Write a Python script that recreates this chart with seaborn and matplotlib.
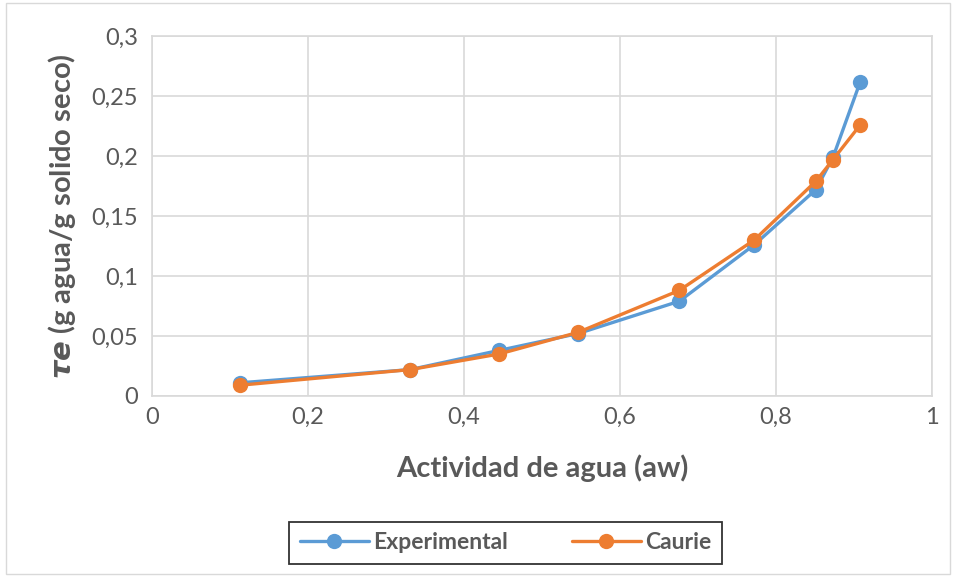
import numpy as np
import pandas as pd
import matplotlib
matplotlib.use("Agg")
import matplotlib.pyplot as plt
from matplotlib.ticker import FuncFormatter, MultipleLocator
from matplotlib.patches import Rectangle
import seaborn as sns

# data
aw = [0.113, 0.331, 0.445, 0.546, 0.676, 0.772, 0.851, 0.873, 0.908]
experimental = [0.011, 0.022, 0.038, 0.052, 0.079, 0.126, 0.172, 0.199, 0.262]
caurie = [0.009, 0.022, 0.035, 0.053, 0.088, 0.130, 0.179, 0.197, 0.226]
series_names = ["Experimental", "Caurie"]

df = pd.DataFrame({
    "aw": aw * 2,
    "value": experimental + caurie,
    "serie": [series_names[0]] * len(aw) + [series_names[1]] * len(aw),
})

sns.set_style("white")
plt.rcParams["font.family"] = ["Lato", "DejaVu Sans"]
plt.rcParams["mathtext.fontset"] = "dejavusans"

grey = "#595959"
grid_c = "#d9d9d9"
palette = {"Experimental": "#5B9BD5", "Caurie": "#ED7D31"}

fig = plt.figure(figsize=(9.56, 5.77), dpi=100)
ax = fig.add_axes([0.159, 0.3137, 0.816, 0.6239])

sns.lineplot(data=df, x="aw", y="value", hue="serie", palette=palette,
             marker="o", markersize=11, markeredgewidth=0, linewidth=2.4,
             sort=False, ax=ax)

ax.set_xlim(0, 1)
ax.set_ylim(0, 0.3)
ax.xaxis.set_major_locator(MultipleLocator(0.2))
ax.yaxis.set_major_locator(MultipleLocator(0.05))
fmt = FuncFormatter(lambda v, p: f"{v:.2f}".rstrip("0").rstrip(".").replace(".", ",") if v != 0 else "0")
ax.xaxis.set_major_formatter(fmt)
ax.yaxis.set_major_formatter(fmt)
ax.tick_params(axis="both", length=0, labelsize=17, colors=grey)
ax.tick_params(axis="x", pad=8)
ax.tick_params(axis="y", pad=10)

ax.grid(True, color=grid_c, linewidth=1.2)
ax.set_axisbelow(True)
for s in ax.spines.values():
    s.set_color(grid_c)
    s.set_linewidth(1.2)

ax.set_xlabel("Actividad de agua (aw)", fontsize=21, fontweight="bold",
              color=grey, labelpad=19)
ax.set_ylabel(r"$\mathbfit{\tau e}$ (g agua/g solido seco)", fontsize=21,
              fontweight="bold", color=grey, labelpad=10)

handles, labels = ax.get_legend_handles_labels()
leg = ax.legend(handles, labels, loc="center", bbox_to_anchor=(0.529, 0.059),
                bbox_transform=fig.transFigure, ncol=2, frameon=True,
                fancybox=False, edgecolor="black", handlelength=3.0,
                handletextpad=0.2, columnspacing=2.8, borderpad=0.45,
                borderaxespad=0, prop={"weight": "bold", "size": 16.5})
leg.get_frame().set_linewidth(1.3)
for t in leg.get_texts():
    t.set_color(grey)

fig.patches.append(Rectangle((0.006, 0.006), 0.988, 0.988, transform=fig.transFigure,
                             fill=False, edgecolor=grid_c, linewidth=1))

fig.savefig("out.png", dpi=100)
